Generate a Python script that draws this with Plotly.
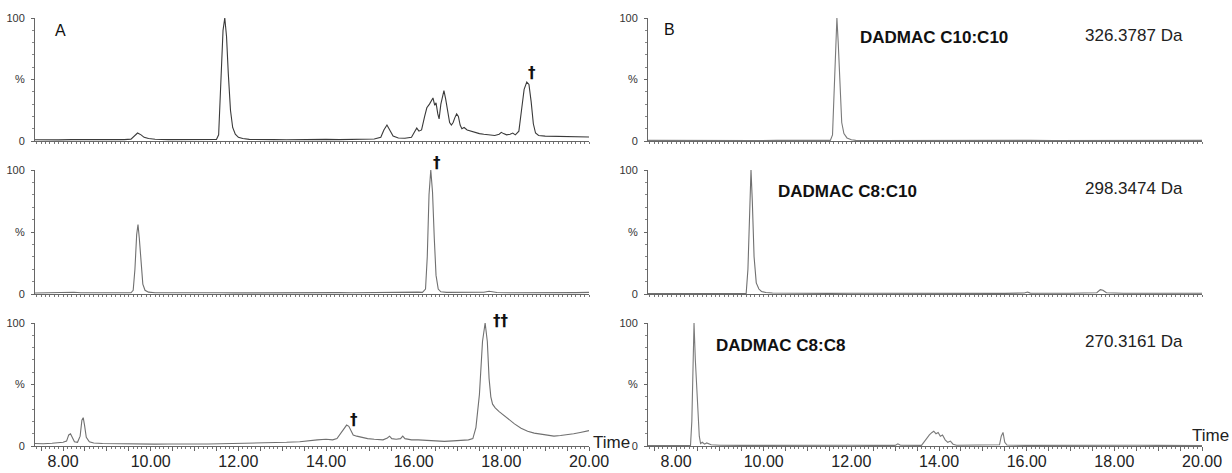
import plotly.graph_objects as go

# ---------------- data ----------------
x_tick_values = [8, 10, 12, 14, 16, 18, 20]
x_tick_labels = ["8.00", "10.00", "12.00", "14.00", "16.00", "18.00", "20.00"]
y_tick_values = [0, 50, 100]
y_tick_labels = ["0", "%", "100"]

# Panel A, top trace
a1_time = [7.36, 7.6, 7.9, 8.2, 8.5, 8.8, 9.1, 9.4, 9.55, 9.62, 9.70, 9.78, 9.85, 9.95, 10.1, 10.4, 10.7,
           11.0, 11.3, 11.5, 11.55, 11.60, 11.65, 11.69, 11.73, 11.77, 11.82, 11.87, 11.93, 12.0, 12.1,
           12.25, 12.5, 12.8, 13.1, 13.4, 13.7, 14.0, 14.3, 14.6, 14.9, 15.1, 15.25, 15.32, 15.39, 15.46,
           15.53, 15.65, 15.8, 15.95, 16.02, 16.07, 16.12, 16.18, 16.25, 16.30, 16.36, 16.40, 16.44, 16.48,
           16.51, 16.55, 16.58, 16.62, 16.66, 16.69, 16.73, 16.78, 16.82, 16.86, 16.90, 16.94, 16.98, 17.02,
           17.06, 17.10, 17.15, 17.22, 17.30, 17.40, 17.50, 17.60, 17.73, 17.85, 17.95, 18.0, 18.05, 18.12,
           18.2, 18.26, 18.32, 18.40, 18.46, 18.52, 18.58, 18.63, 18.68, 18.73, 18.78, 18.85, 19.0, 19.2,
           19.4, 19.6, 19.8, 20.0]
a1_pct = [1.0, 1.2, 0.9, 1.1, 1.0, 1.2, 1.0, 1.1, 1.5, 4, 6.5, 5, 3, 2, 1.4, 1.1, 1.0,
          1.0, 1.0, 1.2, 5, 45, 90, 100, 85, 55, 25, 11, 5.5, 3, 2,
          1.3, 1.0, 1.1, 1.0, 1.2, 1.0, 1.3, 1.1, 1.4, 1.2, 1.6, 3, 9, 13, 9,
          4, 2.5, 2.2, 3, 8, 10.5, 8, 9, 20, 27, 30, 32, 35, 29,
          31, 22, 18, 30, 38, 41, 34, 22, 15, 13, 15, 19, 22, 20,
          13, 10, 11, 9, 8, 7, 6, 5.5, 4.8, 4.5, 5.5, 7, 6, 5,
          5.5, 6.5, 5, 8, 25, 42, 48, 46, 32, 14, 6.5, 4.5, 4, 3.8,
          3.6, 3.5, 3.3, 3.2]

# Panel A, middle trace
a2_time = [7.36, 7.6, 7.9, 8.1, 8.25, 8.4, 8.7, 9.0, 9.3, 9.55, 9.60, 9.64, 9.68, 9.71, 9.74, 9.78, 9.82,
           9.87, 9.95, 10.1, 10.4, 10.7, 11.0, 11.3, 11.6, 11.9, 12.2, 12.5, 12.8, 13.1, 13.4, 13.7, 14.0,
           14.3, 14.6, 14.9, 15.2, 15.5, 15.8, 16.0, 16.1, 16.2, 16.27, 16.31, 16.35, 16.39, 16.43, 16.47,
           16.51, 16.56, 16.62, 16.75, 17.0, 17.3, 17.6, 17.72, 17.78, 17.9, 18.2, 18.5, 18.8, 19.1, 19.4,
           19.7, 20.0]
a2_pct = [0.8, 1.0, 0.8, 1.1, 1.4, 1.0, 0.9, 1.0, 0.9, 1.0, 3, 20, 48, 56, 45, 22, 8,
          3, 1.5, 1.0, 1.1, 0.9, 1.0, 0.8, 1.0, 0.9, 1.0, 0.8, 1.0, 0.9, 1.1, 0.9, 1.0,
          1.1, 1.0, 1.2, 1.0, 1.1, 1.2, 1.6, 1.5, 1.3, 4, 30, 80, 100, 82, 45,
          15, 4, 1.8, 1.3, 1.2, 1.1, 1.4, 2.2, 2.0, 1.2, 1.0, 0.9, 1.1, 1.0, 1.2,
          1.1, 1.3]

# Panel A, bottom trace
a3_time = [7.36, 7.55, 7.75, 7.9, 8.0, 8.08, 8.13, 8.17, 8.21, 8.26, 8.33, 8.39, 8.43, 8.46, 8.49, 8.53,
           8.6, 8.7, 8.9, 9.2, 9.5, 9.8, 10.1, 10.4, 10.7, 11.0, 11.3, 11.6, 11.9, 12.2, 12.5, 12.8, 13.1,
           13.4, 13.6, 13.8, 14.0, 14.15, 14.25, 14.35, 14.42, 14.47, 14.52, 14.57, 14.62, 14.7, 14.8,
           14.95, 15.1, 15.3, 15.4, 15.45, 15.5, 15.6, 15.7, 15.75, 15.8, 15.95, 16.1, 16.3, 16.5, 16.7,
           16.9, 17.1, 17.25, 17.35, 17.42, 17.50, 17.57, 17.63, 17.68, 17.72, 17.76, 17.80, 17.86, 17.95,
           18.05, 18.15, 18.3, 18.45, 18.6, 18.75, 18.9, 19.05, 19.2, 19.35, 19.5, 19.65, 19.8, 19.9, 20.0]
a3_pct = [2.0, 1.8, 2.2, 2.5, 3, 4, 9, 10, 7, 3.5, 3, 8, 21, 23, 17, 7,
          3.5, 2.5, 2.0, 1.8, 1.6, 1.7, 1.5, 1.6, 1.5, 1.7, 1.6, 1.8, 2.0, 2.2, 2.0, 2.5, 3.0,
          3.5, 4.5, 5.0, 5.5, 5.0, 6, 11, 15, 17, 16, 12, 9, 8, 7,
          6, 5.5, 5, 6.5, 8, 6, 5.5, 6, 8, 6, 5, 5, 4.5, 4, 3.8,
          4.2, 4.5, 5, 6, 15, 42, 85, 100, 85, 55, 40, 34, 31, 28,
          25, 22, 18, 14.5, 12, 10.5, 9.5, 8.5, 8, 8.5, 9, 10, 11, 11.5, 12.5]

# Panel B, top trace (326.3787 Da)
b1_time = [7.36, 7.8, 8.3, 8.8, 9.3, 9.8, 10.3, 10.8, 11.3, 11.52, 11.57, 11.61, 11.645, 11.67, 11.70,
           11.74, 11.78, 11.83, 11.9, 12.0, 12.1, 12.6, 13.1, 13.6, 14.1, 14.6, 15.1, 15.6, 16.1, 16.6,
           17.1, 17.6, 18.1, 18.6, 19.1, 19.6, 20.0]
b1_pct = [0.5, 0.4, 0.5, 0.4, 0.5, 0.4, 0.5, 0.4, 0.5, 0.5, 5, 40, 85, 100, 80,
          40, 15, 6, 2.5, 1.0, 0.5, 0.4, 0.5, 0.4, 0.5, 0.4, 0.5, 0.4, 0.5, 0.4,
          0.5, 0.4, 0.5, 0.4, 0.5, 0.4, 0.5]

# Panel B, middle trace (298.3474 Da)
b2_time = [7.36, 7.8, 8.3, 8.8, 9.3, 9.60, 9.64, 9.68, 9.71, 9.74, 9.78, 9.83, 9.89, 9.95, 10.05, 10.2,
           10.6, 11.0, 11.5, 12.0, 12.5, 13.0, 13.5, 14.0, 14.5, 15.0, 15.5, 15.95, 16.02, 16.08, 16.5,
           17.0, 17.6, 17.68, 17.74, 17.82, 18.2, 18.6, 19.0, 19.5, 20.0]
b2_pct = [0.4, 0.5, 0.4, 0.5, 0.4, 0.5, 20, 80, 100, 75, 30, 9, 4, 2, 1.2, 0.8,
          0.6, 0.7, 0.5, 0.6, 0.5, 0.5, 0.6, 0.7, 0.5, 0.6, 0.5, 0.8, 1.6, 0.7, 0.6,
          0.6, 1.0, 3.5, 3.0, 1.0, 0.6, 0.5, 0.6, 0.7, 0.6]

# Panel B, bottom trace (270.3161 Da)
b3_time = [7.36, 7.8, 8.2, 8.33, 8.36, 8.39, 8.41, 8.44, 8.49, 8.53, 8.56, 8.6, 8.65, 8.7, 8.8, 9.0,
           9.5, 10.0, 10.5, 11.0, 11.5, 12.0, 12.5, 13.0, 13.06, 13.12, 13.6, 13.65, 13.72, 13.78, 13.84,
           13.88, 13.93, 13.98, 14.03, 14.08, 14.14, 14.2, 14.26, 14.32, 14.4, 14.7, 14.9, 15.2, 15.38,
           15.42, 15.46, 15.5, 15.55, 16.0, 16.5, 17.0, 17.5, 18.0, 18.5, 19.0, 19.5, 20.0]
b3_pct = [0.3, 0.4, 0.3, 0.5, 20, 80, 100, 70, 30, 8, 2, 3, 1.5, 2.5, 1.0, 0.6,
          0.5, 0.6, 0.5, 0.6, 0.5, 0.6, 0.5, 0.5, 1.8, 0.6, 0.5, 3, 7, 9, 11,
          12, 10, 11, 8, 9, 5, 3, 4, 1.5, 0.6, 0.8, 1.0, 0.6, 1.0,
          8, 11, 3, 0.8, 0.5, 0.6, 0.5, 0.6, 0.5, 0.6, 0.5, 0.6, 0.4]

panel_titles = ["A", "B"]
compound_names = ["DADMAC C10:C10", "DADMAC C8:C10", "DADMAC C8:C8"]
masses = ["326.3787 Da", "298.3474 Da", "270.3161 Da"]
axis_title = "Time"
# peak markers in panel A: (row, time, %, symbol)
marker_row = [0, 1, 2, 2]
marker_time = [18.69, 16.53, 14.63, 17.99]
marker_pct = [55, 106, 21, 102]
marker_text = ["†", "†", "†", "††"]

# ---------------- layout ----------------
W, H = 1232, 473
FONT = "Arial, Liberation Sans, sans-serif"
X_RANGE = [7.36, 20.0]
Y_RANGE = [0, 100]


def px(x):
    return x / W


def py(y):
    return 1 - y / H


col_px = [(35, 589), (648, 1202)]
row_px = [(18, 141), (170, 294), (323, 446)]

traces = [
    (a1_time, a1_pct, 0, 0, "#3a3a3a"),
    (a2_time, a2_pct, 1, 0, "#707070"),
    (a3_time, a3_pct, 2, 0, "#707070"),
    (b1_time, b1_pct, 0, 1, "#7a7a7a"),
    (b2_time, b2_pct, 1, 1, "#707070"),
    (b3_time, b3_pct, 2, 1, "#7a7a7a"),
]

fig = go.Figure()
layout = dict(
    width=W, height=H, autosize=False,
    margin=dict(l=0, r=0, t=0, b=0, autoexpand=False),
    paper_bgcolor="white", plot_bgcolor="white",
    showlegend=False,
    font=dict(family=FONT, color="#222"),
)

major_vals = [7.5 + 0.5 * k for k in range(26)]
for idx, (t, v, r, c, color) in enumerate(traces):
    n = idx + 1
    xa = "xaxis" if n == 1 else f"xaxis{n}"
    ya = "yaxis" if n == 1 else f"yaxis{n}"
    xr = "x" if n == 1 else f"x{n}"
    yr = "y" if n == 1 else f"y{n}"
    fig.add_trace(go.Scatter(x=t, y=v, mode="lines", xaxis=xr, yaxis=yr,
                             line=dict(color=color, width=1.1), hoverinfo="skip"))
    bottom = (r == 2)
    ttext = []
    for mv in major_vals:
        lab = ""
        if bottom and mv in x_tick_values:
            lab = x_tick_labels[x_tick_values.index(mv)]
        ttext.append(lab)
    layout[xa] = dict(
        domain=[px(col_px[c][0]), px(col_px[c][1])], range=X_RANGE, anchor=yr,
        automargin=False,
        showline=True, linecolor="#666", linewidth=1, mirror=False,
        showgrid=False, zeroline=False,
        ticks="outside", ticklen=4, tickcolor="#666", tickwidth=1,
        tickmode="array", tickvals=major_vals, ticktext=ttext,
        showticklabels=bottom,
        tickfont=dict(size=16, family=FONT, color="#222"),
        ticklabelstandoff=-3,
        minor=dict(tickmode="linear", tick0=0, dtick=0.1, ticklen=2, ticks="outside",
                   tickcolor="#777", showgrid=False),
    )
    layout[ya] = dict(
        domain=[py(row_px[r][1]), py(row_px[r][0])], range=Y_RANGE, anchor=xr,
        automargin=False,
        showline=True, linecolor="#666", linewidth=1,
        showgrid=False, zeroline=False,
        ticks="outside", ticklen=3, tickcolor="#666",
        tickmode="array", tickvals=y_tick_values, ticktext=y_tick_labels,
        tickfont=dict(size=11, family=FONT, color="#333"),
        ticklabelstandoff=4,
        minor=dict(tickmode="linear", tick0=0, dtick=10, ticklen=2, ticks="outside",
                   tickcolor="#888", showgrid=False),
    )


def note(x, y, text, size, color="#222", xanchor="center", family=FONT):
    return dict(x=px(x), y=py(y), xref="paper", yref="paper", text=text, showarrow=False,
                xanchor=xanchor, yanchor="middle",
                font=dict(size=size, family=family, color=color))


annotations = []
# panel letters
annotations.append(note(60, 31, panel_titles[0], 16, "#111"))
annotations.append(note(669, 29, panel_titles[1], 16, "#111"))
# compound names and masses
name_pos = [(858, 37), (776, 192), (714, 345)]
mass_pos = [(1083, 36), (1083, 188), (1083, 341)]
for i in range(3):
    annotations.append(note(name_pos[i][0], name_pos[i][1], f"<b>{compound_names[i]}</b>", 17,
                            "#111", xanchor="left"))
    annotations.append(note(mass_pos[i][0], mass_pos[i][1], masses[i], 17, "#222", xanchor="left"))
# Time labels
annotations.append(note(611, 442, axis_title, 17))
annotations.append(note(1210, 435, axis_title, 17))

# dagger markers: convert panel-A data coordinates to pixel positions
x0p, x1p = col_px[0]
for r, tv, pv, s in zip(marker_row, marker_time, marker_pct, marker_text):
    y0p, y1p = row_px[r][1], row_px[r][0]
    xx = x0p + (tv - X_RANGE[0]) / (X_RANGE[1] - X_RANGE[0]) * (x1p - x0p)
    yy = y0p + (pv - Y_RANGE[0]) / (Y_RANGE[1] - Y_RANGE[0]) * (y1p - y0p)
    annotations.append(note(xx, yy, f"<b>{s}</b>", 15, "#111", family="DejaVu Sans"))

layout["annotations"] = annotations
fig.update_layout(**layout)
fig.write_html("out.html",
               config={"displayModeBar": False, "staticPlot": True},
               post_script="document.body.style.margin='0';document.body.style.overflow='hidden';")
